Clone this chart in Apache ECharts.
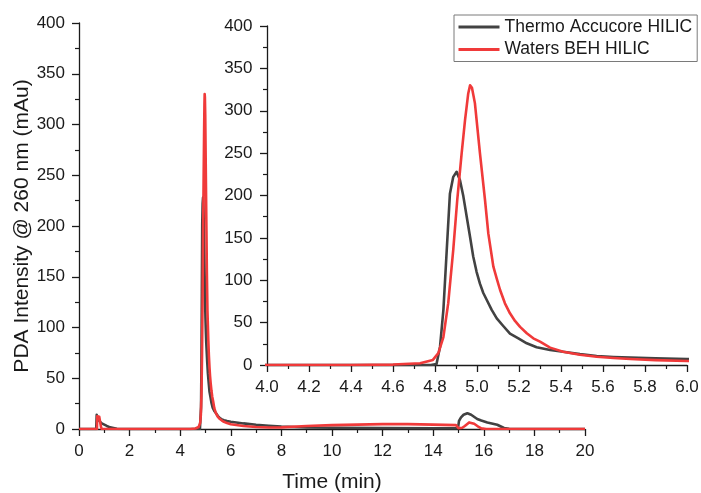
<!DOCTYPE html>
<html>
<head>
<meta charset="utf-8">
<script src="https://cdn.jsdelivr.net/npm/echarts@6/dist/echarts.min.js"></script>
<style>
  html, body { margin: 0; padding: 0; background: #fff; }
  #chart { width: 701px; height: 493px; }
</style>
</head>
<body>
<div id="chart"></div>
<script>
// Chromatogram traces: retention time (min) and PDA signal (mAu)
const thermoTime = [0, 0.68, 0.70, 0.74, 0.80, 0.90, 0.96, 1.10, 1.23, 1.50, 1.80, 4.78, 4.807, 4.824, 4.84, 4.856, 4.871, 4.887, 4.903, 4.919, 4.935, 4.951, 4.967, 4.982, 4.998, 5.014, 5.03, 5.046, 5.07, 5.094, 5.125, 5.157, 5.197, 5.237, 5.284, 5.348, 5.41, 5.49, 5.57, 5.65, 5.73, 5.85, 6.0, 6.5, 7.0, 7.5, 8.0, 9.0, 10.0, 12.0, 14.0, 14.98, 15.02, 15.10, 15.20, 15.35, 15.50, 15.74, 15.90, 16.14, 16.53, 16.80, 17.0, 17.5, 20.0];
const thermoSignal = [0, 0, 14, 11, 8, 5.5, 4.9, 3, 1.6, 0.3, 0, 0, 1, 21.6, 65, 136, 202, 222, 228, 218, 199, 175, 151, 128, 110, 96, 85, 77, 65, 55, 46, 37, 31.5, 25.6, 21, 17.7, 15.7, 12.8, 10.6, 9.5, 8.7, 7.8, 7.1, 5.5, 4.2, 3.2, 2.4, 1.5, 1.2, 1, 0.8, 0.8, 8, 11.5, 14, 15.5, 14, 9.8, 8.3, 6.5, 4.2, 1, 0.2, 0, 0];

const watersTime = [0, 0.71, 0.72, 0.76, 0.80, 0.84, 0.87, 0.90, 4.40, 4.60, 4.729, 4.79, 4.816, 4.84, 4.863, 4.887, 4.906, 4.927, 4.943, 4.958, 4.967, 4.976, 4.99, 5.014, 5.038, 5.054, 5.078, 5.094, 5.11, 5.133, 5.157, 5.181, 5.205, 5.237, 5.268, 5.30, 5.348, 5.41, 5.49, 5.57, 5.65, 5.73, 5.85, 6.0, 6.5, 7.0, 7.5, 8.0, 9.0, 10.0, 11.0, 12.0, 13.0, 14.0, 14.9, 15.0, 15.15, 15.25, 15.42, 15.62, 15.80, 15.90, 16.10, 20.0];
const watersSignal = [0, 0, 12.5, 13, 12, 11, 2, 0, 0, 0.5, 2, 6, 14, 33, 73, 136, 195, 250, 289, 320, 330, 327, 309, 250, 195, 155, 116, 102, 88.5, 72.8, 61, 52, 45, 37.4, 31.5, 27.5, 20.5, 15.7, 12, 9.8, 8.3, 7.1, 5.8, 4.7, 3, 2, 1.5, 1.6, 3, 3.8, 4.3, 4.8, 4.8, 4.3, 3.8, 0.8, 1.2, 3, 6.5, 5.2, 2, 0.6, 0, 0];

const seriesNames = ['Thermo Accucore HILIC', 'Waters BEH HILIC'];
const seriesColors = ['#424242', '#f03a3a'];

const xTitle = 'Time (min)';
const yTitle = 'PDA Intensity @ 260 nm (mAu)';

const pairs = (t, v) => t.map((x, i) => [x, v[i]]);
const traces = [pairs(thermoTime, thermoSignal), pairs(watersTime, watersSignal)];

const FONT = "'Liberation Sans', Arial, sans-serif";
const INK = '#1a1a1a';

function axisBase(extra) {
  return Object.assign({
    type: 'value',
    axisLine: { show: true, onZero: false, lineStyle: { color: INK, width: 1.3 } },
    axisTick: { show: true, inside: false, length: 7, lineStyle: { color: INK, width: 1.3 } },
    minorTick: { show: true, splitNumber: 2, length: 4, lineStyle: { color: INK, width: 1.2 } },
    splitLine: { show: false },
    axisLabel: { color: INK, fontSize: 17, fontFamily: FONT },
    nameMoveOverlap: false,
    nameTextStyle: { color: INK, fontSize: 21, fontFamily: FONT }
  }, extra);
}

const chart = echarts.init(document.getElementById('chart'), null, { renderer: 'canvas' });

chart.setOption({
  animation: false,
  backgroundColor: '#ffffff',
  textStyle: { fontFamily: FONT },
  legend: {
    data: seriesNames,
    orient: 'vertical',
    left: 454,
    top: 15,
    itemWidth: 41,
    itemHeight: 18,
    itemGap: 4.5,
    itemTextGap: 4,
    padding: [3, 5, 3, 3],
    borderColor: '#7a7a7a',
    borderWidth: 1,
    itemStyle: { opacity: 0 },
    lineStyle: { width: 3 },
    textStyle: { color: INK, fontSize: 17.5, fontFamily: FONT }
  },
  grid: [
    { left: 79, top: 23, width: 506, height: 406, containLabel: false, outerBoundsMode: 'none' },
    { left: 267, top: 26, width: 420, height: 339, containLabel: false, outerBoundsMode: 'none' }
  ],
  xAxis: [
    axisBase({
      gridIndex: 0, min: 0, max: 20, interval: 2,
      name: xTitle, nameLocation: 'middle', nameGap: 42.5,
      axisLabel: { color: INK, fontSize: 17, fontFamily: FONT, margin: 14 }
    }),
    axisBase({
      gridIndex: 1, min: 4, max: 6, interval: 0.2,
      axisLabel: { color: INK, fontSize: 17, fontFamily: FONT, margin: 14,
        formatter: v => v.toFixed(1) }
    })
  ],
  yAxis: [
    axisBase({
      gridIndex: 0, min: 0, max: 400, interval: 50,
      name: yTitle, nameLocation: 'middle', nameGap: 46,
      axisLabel: { color: INK, fontSize: 17, fontFamily: FONT, margin: 14 }
    }),
    axisBase({
      gridIndex: 1, min: 0, max: 400, interval: 50,
      axisLabel: { color: INK, fontSize: 17, fontFamily: FONT, margin: 14.5 }
    })
  ],
  series: [0, 1].flatMap(k => [0, 1].map(s => ({
    type: 'line',
    name: seriesNames[s],
    xAxisIndex: k,
    yAxisIndex: k,
    data: traces[s],
    symbol: 'none',
    showSymbol: false,
    clip: true,
    z: 2 + s,
    lineStyle: { color: seriesColors[s], width: 2.6, join: 'round' },
    itemStyle: { color: seriesColors[s] }
  })))
});
</script>
</body>
</html>
